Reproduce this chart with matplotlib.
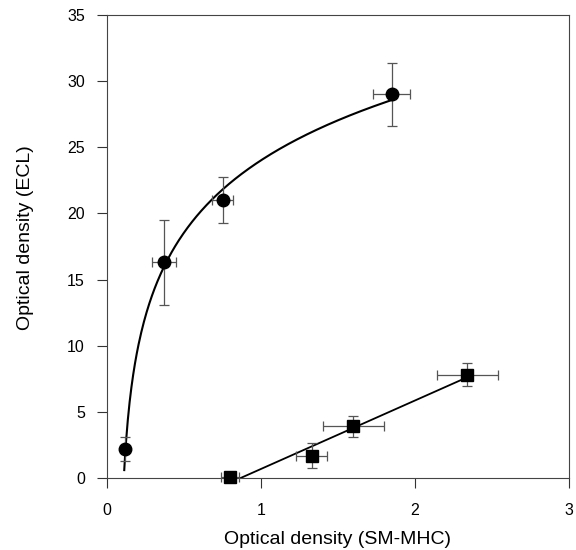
import numpy as np
import matplotlib
matplotlib.use('Agg')
import matplotlib.pyplot as plt

plt.rcParams['font.family'] = ['Liberation Sans', 'DejaVu Sans']

##------------------data----------------
# ECL vs SM-MHC, circles
circ_x = [0.12, 0.37, 0.75, 1.85]
circ_y = [2.2, 16.3, 21.0, 29.0]
circ_xerr = [0.0, 0.08, 0.065, 0.12]
circ_yerr = [0.88, 3.2, 1.76, 2.4]

# squares
sq_x = [0.80, 1.33, 1.60, 2.34]
sq_y = [0.05, 1.70, 3.90, 7.80]
sq_xerr = [0.06, 0.10, 0.20, 0.20]
sq_yerr = [0.0, 0.97, 0.82, 0.87]

x_ticks = [0, 1, 2, 3]
y_ticks = [0, 5, 10, 15, 20, 25, 30, 35]

# log fit for the circles: y = a + b*ln(x - shift)
shift = 0.08
b, a = np.polyfit(np.log(np.array(circ_x) - shift), circ_y, 1)
fx = np.linspace(0.112, max(circ_x), 300)
fy = a + b * np.log(fx - shift)

# straight line for the squares
m, c = np.polyfit(sq_x, sq_y, 1)
lx = np.linspace(-c / m, max(sq_x), 50)
ly = m * lx + c

##------------------plot----------------
fig = plt.figure(figsize=(5.76, 5.5), dpi=100)
ax = fig.add_axes([107 / 576, 1 - 478 / 550, 462 / 576, 463 / 550])

ax.plot(fx, fy, color='black', lw=1.5, zorder=3)
ax.plot(lx, ly, color='black', lw=1.3, zorder=3)

ax.errorbar(circ_x, circ_y, xerr=circ_xerr, yerr=circ_yerr, fmt='o', color='black',
            ms=9, ecolor='#555555', elinewidth=0.9, capsize=3.5, capthick=0.9,
            zorder=4, clip_on=False)
ax.errorbar(sq_x, sq_y, xerr=sq_xerr, yerr=sq_yerr, fmt='s', color='black',
            ms=8, ecolor='#555555', elinewidth=0.9, capsize=3.5, capthick=0.9,
            zorder=4, clip_on=False)

ax.set_xlim(0, 3)
ax.set_ylim(0, 35)
ax.set_xticks(x_ticks)
ax.set_yticks(y_ticks)
ax.tick_params(axis='both', direction='out', length=7, width=0.8, color='#333333',
               labelsize=11.5)
ax.tick_params(axis='x', pad=11)
ax.tick_params(axis='y', pad=9)
for s in ax.spines.values():
    s.set_linewidth(0.8)
    s.set_color('#444444')

ax.set_xlabel('Optical density (SM-MHC)', fontsize=14)
ax.set_ylabel('Optical density (ECL)', fontsize=14)
ax.xaxis.set_label_coords(0.5, -0.115)
ax.yaxis.set_label_coords(-0.158, 0.52)

plt.savefig('out.png', dpi=100)
